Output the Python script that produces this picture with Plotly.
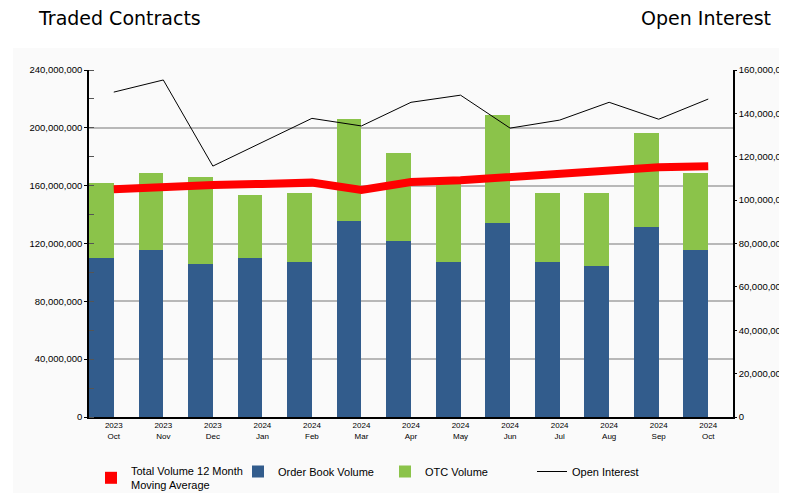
import plotly.graph_objects as go

months = ["2023<br>Oct", "2023<br>Nov", "2023<br>Dec", "2024<br>Jan", "2024<br>Feb", "2024<br>Mar",
          "2024<br>Apr", "2024<br>May", "2024<br>Jun", "2024<br>Jul", "2024<br>Aug", "2024<br>Sep",
          "2024<br>Oct"]
# values in millions
order_book_m = [110.3, 115.8, 106.1, 110.3, 107.5, 135.3, 121.4, 107.5, 133.9, 107.5, 104.7, 131.1, 115.8]
otc_m = [51.3, 52.7, 59.7, 43.0, 47.2, 70.7, 61.0, 53.5, 74.9, 47.2, 50.0, 65.2, 52.7]
moving_avg_m = [157.5, 159.5, 160.5, 161.2, 162.1, 157.0, 162.5, 163.7, 165.8, 168.5, 170.6, 172.7, 173.4]
open_interest_m = [149.8, 155.4, 115.7, 126.7, 137.7, 134.2, 145.1, 148.4, 133.2, 136.9, 145.1, 137.3, 146.6]

M = 1e6
order_book = [v * M for v in order_book_m]
otc = [v * M for v in otc_m]
moving_avg = [v * M for v in moving_avg_m]
open_interest = [v * M for v in open_interest_m]

BLUE = "#325c8c"
GREEN = "#8bc34a"
RED = "#ff0000"
MA_NAME = "Total Volume 12 Month<br>Moving Average"

W, H = 779, 485
L, R, T, B = 81, 54, 62, 76
PW, PH = W - L - R, H - T - B


def px_x(x):
    return (x - L) / PW


def px_y(y):
    return (H - B - y) / PH


fig = go.Figure()
fig.add_trace(go.Bar(x=months, y=order_book, name="Order Book Volume", marker_color=BLUE,
                     marker_line_width=0, width=0.5, offset=-0.5, legendrank=2))
fig.add_trace(go.Bar(x=months, y=otc, name="OTC Volume", marker_color=GREEN,
                     marker_line_width=0, width=0.5, offset=-0.5, legendrank=3))
# legend swatch for the moving average (drawn as a filled rectangle like the original)
fig.add_trace(go.Bar(x=[months[0]], y=[None], name=MA_NAME, marker_color=RED,
                     marker_line_width=0, legendrank=1, legendgroup="ma", hoverinfo="skip"))
fig.add_trace(go.Scatter(x=months, y=moving_avg, name=MA_NAME, mode="lines",
                         line=dict(color=RED, width=8), showlegend=False, legendgroup="ma"))
fig.add_trace(go.Scatter(x=months, y=open_interest, name="Open Interest", mode="lines",
                         line=dict(color="black", width=1), yaxis="y2", legendrank=4))

fig.update_layout(
    width=W, height=H,
    margin=dict(l=L, r=R, t=T, b=B, autoexpand=False),
    barmode="stack",
    paper_bgcolor="white",
    plot_bgcolor="#fefefe",
    font=dict(family="Liberation Sans, Arial, sans-serif", size=9, color="black"),
    showlegend=True,
    legend=dict(orientation="h", xref="container", yref="container", x=83 / W, y=(H - 470) / H,
                xanchor="left", yanchor="middle",
                entrywidth=102, entrywidthmode="pixels", traceorder="normal",
                font=dict(size=11, family="Liberation Sans, Arial, sans-serif"),
                bgcolor="rgba(0,0,0,0)"),
    xaxis=dict(type="category", showline=True, linecolor="black", linewidth=1.5, automargin=False,
               ticks="", tickfont=dict(size=8), showgrid=False, mirror=False),
    yaxis=dict(range=[0, 240e6], dtick=40e6, tickformat=",", showline=True, linecolor="black",
               linewidth=1.5, ticks="outside", ticklen=3, tickcolor="black", automargin=False,
               showgrid=True, gridcolor="#b8b8b8", gridwidth=1.5, zeroline=False,
               minor=dict(dtick=20e6, ticks="inside", ticklen=5, tickcolor="#555555", showgrid=False),
               tickfont=dict(size=9.5)),
    yaxis2=dict(range=[0, 160e6], dtick=20e6, tickformat=",", overlaying="y", side="right",
                showline=True, linecolor="black", linewidth=1.5, ticks="outside", ticklen=2,
                automargin=False,
                tickcolor="black", showgrid=False, zeroline=False, tickfont=dict(size=9.5)),
    shapes=[dict(type="rect", xref="paper", yref="paper", x0=px_x(5), x1=px_x(W + 5),
                 y0=px_y(H + 5), y1=px_y(40),
                 fillcolor="#fafafa", line_width=0, layer="below")],
    annotations=[
        dict(text="Traded Contracts", xref="paper", yref="paper", x=px_x(28), y=px_y(10),
             xanchor="left", yanchor="middle", showarrow=False,
             font=dict(size=19, family="DejaVu Sans, Verdana, sans-serif", color="black")),
        dict(text="Open Interest", xref="paper", yref="paper", x=px_x(765), y=px_y(10),
             xanchor="right", yanchor="middle", showarrow=False,
             font=dict(size=19, family="DejaVu Sans, Verdana, sans-serif", color="black")),
    ],
)

fig.write_html("out.html")
